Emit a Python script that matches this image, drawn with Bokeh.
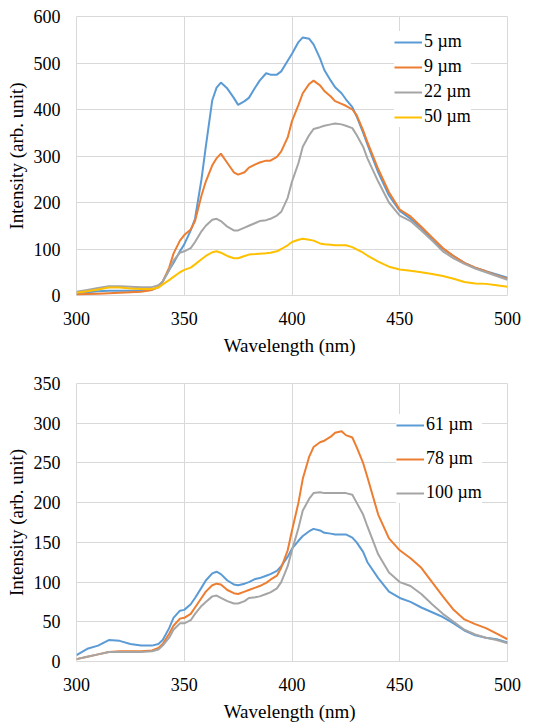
from bokeh.plotting import figure
from bokeh.layouts import column
from bokeh.models import Range1d, Legend, LegendItem, FixedTicker
from bokeh.embed import file_html
from bokeh.resources import INLINE

wavelength = [300, 305, 310, 315, 320, 325, 330, 335, 338, 340, 343, 345, 348, 350,
              353, 355, 358, 360, 363, 365, 367, 370, 373, 375, 378, 380, 383, 385,
              388, 390, 393, 395, 398, 400, 403, 405, 408, 410, 413, 415, 418, 420,
              423, 425, 428, 430, 433, 435, 440, 445, 450, 455, 460, 465, 470, 475,
              480, 485, 490, 495, 500]

s5um = [5, 7, 9, 10, 10, 10, 11, 12, 18, 30, 55, 70, 95, 110,
        140, 165, 250, 320, 420, 447, 458, 445, 425, 410, 418, 425, 448, 462,
        478, 475, 475, 482, 505, 520, 545, 555, 552, 540, 510, 485, 462, 448,
        435, 422, 405, 385, 350, 325, 265, 215, 182, 165, 145, 120, 100, 85,
        70, 60, 52, 45, 38]
s9um = [2, 3, 4, 5, 6, 7, 8, 12, 18, 30, 60, 90, 118, 130,
        142, 160, 215, 245, 280, 295, 305, 285, 265, 260, 265, 275, 282, 286,
        290, 290, 298, 310, 340, 375, 410, 435, 455, 462, 452, 440, 428, 418,
        412, 408, 400, 388, 355, 330, 272, 222, 185, 170, 148, 125, 102, 85,
        70, 60, 52, 43, 36]
s22um = [8, 12, 16, 20, 20, 19, 18, 18, 22, 30, 55, 75, 92, 95,
         102, 115, 138, 150, 163, 165, 160, 148, 140, 140, 146, 150, 156, 160,
         162, 165, 172, 180, 210, 245, 285, 320, 345, 358, 362, 365, 368, 370,
         368, 365, 360, 345, 320, 295, 245, 200, 172, 160, 140, 118, 95, 80,
         68, 58, 50, 42, 34]
s50um = [6, 9, 13, 17, 17, 15, 14, 14, 17, 24, 33, 40, 50, 55,
         60, 67, 78, 85, 93, 95, 92, 85, 80, 80, 85, 88, 89, 90,
         91, 92, 95, 100, 108, 115, 120, 122, 120, 118, 112, 110, 109, 108,
         108, 108, 104, 99, 92, 86, 73, 62, 56, 53, 50, 46, 42, 36,
         29, 26, 25, 22, 19]

s61um = [8, 16, 20, 27, 26, 22, 20, 20, 22, 27, 42, 55, 64, 65,
         72, 80, 93, 102, 111, 113, 110, 102, 97, 96, 98, 100, 104, 105,
         108, 110, 114, 120, 132, 142, 152, 158, 164, 167, 165, 162, 161, 160,
         160, 160, 156, 150, 138, 125, 105, 88, 80, 75, 68, 62, 56, 48,
         39, 33, 30, 28, 24]
s78um = [3, 6, 9, 12, 13, 13, 13, 14, 17, 22, 35, 45, 54, 55,
         60, 68, 80, 88, 96, 98, 97, 90, 86, 85, 88, 90, 93, 95,
         99, 103, 108, 118, 140, 165, 200, 230, 258, 270, 276, 278, 283, 288,
         290, 285, 282, 270, 250, 232, 185, 155, 140, 130, 118, 100, 82, 65,
         53, 47, 42, 35, 28]
s100um = [3, 6, 9, 12, 12, 12, 12, 13, 15, 20, 30, 40, 48, 48,
          52, 60, 70, 75, 82, 83, 80, 76, 73, 73, 76, 80, 81, 82,
          85, 87, 92, 100, 120, 140, 168, 190, 205, 212, 213, 212, 212, 212,
          212, 212, 210, 200, 185, 170, 135, 112, 100, 95, 85, 72, 60, 50,
          40, 34, 30, 27, 23]

top_labels = ["5 \u00b5m", "9 \u00b5m", "22 \u00b5m", "50 \u00b5m"]
bottom_labels = ["61 \u00b5m", "78 \u00b5m", "100 \u00b5m"]
x_ticks = [300, 350, 400, 450, 500]
top_y_ticks = [0, 100, 200, 300, 400, 500, 600]
bottom_y_ticks = [0, 50, 100, 150, 200, 250, 300, 350]

BLUE, ORANGE, GRAY, YELLOW = "#5B9BD5", "#ED7D31", "#A5A5A5", "#FFC000"
FONT = "Liberation Serif"


def make_fig(ymax, yticks, series, labels, colors, borders, loc, spacing):
    left, top, bottom, fh = borders
    p = figure(frame_width=431, frame_height=fh, min_border_left=left,
               min_border_right=29, min_border_top=top, min_border_bottom=bottom,
               x_range=Range1d(300, 500), y_range=Range1d(0, ymax),
               output_backend="svg", toolbar_location=None)
    p.outline_line_color = "#D9D9D9"
    p.outline_line_width = 1
    p.background_fill_color = "white"
    p.border_fill_color = "white"
    for ax in (p.xaxis[0], p.yaxis[0]):
        ax.axis_line_color = None
        ax.major_tick_line_color = None
        ax.minor_tick_line_color = None
        ax.major_tick_out = 0
        ax.major_tick_in = 0
        ax.major_label_text_font = FONT
        ax.major_label_text_font_size = "18px"
        ax.major_label_text_color = "black"
        ax.axis_label_text_font = FONT
        ax.axis_label_text_font_size = "19px"
        ax.axis_label_text_font_style = "normal"
        ax.axis_label_text_color = "black"
    p.xaxis.ticker = FixedTicker(ticks=x_ticks)
    p.yaxis.ticker = FixedTicker(ticks=yticks)
    p.xaxis.axis_label = "Wavelength  (nm)"
    p.yaxis.axis_label = "Intensity (arb. unit)"
    p.xaxis.major_label_standoff = 16
    p.xaxis.axis_label_standoff = 7
    p.yaxis.major_label_standoff = 16
    p.yaxis.axis_label_standoff = 4
    p.grid.grid_line_color = "#D9D9D9"
    p.grid.grid_line_width = 1
    p.xgrid.ticker = FixedTicker(ticks=x_ticks)
    p.ygrid.ticker = FixedTicker(ticks=yticks)

    items = []
    for s, lab, c in zip(series, labels, colors):
        r = p.line(wavelength, s, line_color=c, line_width=2)
        items.append(LegendItem(label=lab, renderers=[r]))
    leg = Legend(items=items, location=loc)
    leg.label_text_font = FONT
    leg.label_text_font_size = "18px"
    leg.label_text_color = "black"
    leg.glyph_width = 28
    leg.glyph_height = 20
    leg.label_height = 20
    leg.label_standoff = 2
    leg.spacing = spacing
    leg.padding = 6
    leg.margin = 0
    leg.border_line_color = None
    leg.background_fill_color = "white"
    leg.background_fill_alpha = 1
    p.add_layout(leg)
    return p


p1 = make_fig(600, top_y_ticks, [s5um, s9um, s22um, s50um], top_labels,
              [BLUE, ORANGE, GRAY, YELLOW], (75, 16, 65, 279), (318, 168), 4)
p2 = make_fig(350, bottom_y_ticks, [s61um, s78um, s100um], bottom_labels,
              [BLUE, ORANGE, GRAY], (76, 23, 61, 278), (320, 158), 13)

layout = column(p1, p2, spacing=0)
open("out.html", "w").write(file_html(layout, INLINE))
